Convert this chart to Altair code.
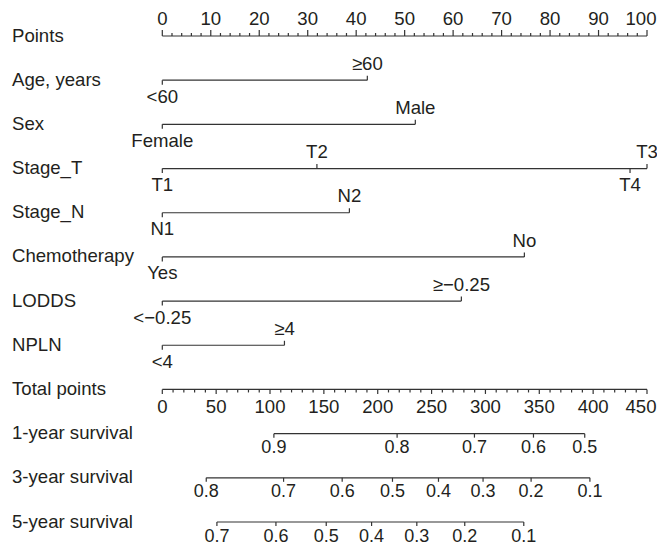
import altair as alt
import pandas as pd

FONT = "Liberation Sans"
INK = "#231f20"
LINE = "#333333"
FS = 18.6
FS_SURV = 18

# ---------------- data ----------------
row_names = ["Points", "Age, years", "Sex", "Stage_T", "Stage_N", "Chemotherapy",
             "LODDS", "NPLN", "Total points", "1-year survival", "3-year survival",
             "5-year survival"]

points_major = list(range(0, 101, 10))
points_minor = [v for v in range(0, 101, 2) if v % 10]

total_major = list(range(0, 451, 50))
total_minor = [v for v in range(0, 451, 10) if v % 50]

# categorical predictors: labels, points, label side
age_labels = ["<60", "≥60"];          age_points = [0, 42.3];   age_side = ["below", "above"]
sex_labels = ["Female", "Male"];      sex_points = [0, 52.2];   sex_side = ["below", "above"]
t_labels = ["T1", "T2", "T3", "T4"];  t_points = [0, 31.9, 100, 96.5]; t_side = ["below", "above", "above", "below"]
n_labels = ["N1", "N2"];              n_points = [0, 38.6];     n_side = ["below", "above"]
chemo_labels = ["Yes", "No"];         chemo_points = [0, 74.7]; chemo_side = ["below", "above"]
lodds_labels = ["<−0.25", "≥−0.25"];  lodds_points = [0, 61.7]; lodds_side = ["below", "above"]
npln_labels = ["<4", "≥4"];           npln_points = [0, 25.2];  npln_side = ["below", "above"]

# survival scales: labels and their total-points positions
surv1_labels = ["0.9", "0.8", "0.7", "0.6", "0.5"]
surv1_total = [103.6, 218.0, 289.8, 344.6, 392.2]
surv3_labels = ["0.8", "0.7", "0.6", "0.5", "0.4", "0.3", "0.2", "0.1"]
surv3_total = [40.8, 112.6, 167.0, 213.7, 256.4, 297.8, 342.4, 397.0]
surv5_labels = ["0.7", "0.6", "0.5", "0.4", "0.3", "0.2", "0.1"]
surv5_total = [50.7, 105.5, 152.2, 194.3, 236.3, 280.8, 335.6]

TOTAL_MAX = 450
POINTS_MAX = 100

# ---------------- tables ----------------
rows = pd.DataFrame({"name": row_names, "row": list(range(len(row_names)))})

cats = [
    (1, age_labels, age_points, age_side),
    (2, sex_labels, sex_points, sex_side),
    (3, t_labels, t_points, t_side),
    (4, n_labels, n_points, n_side),
    (5, chemo_labels, chemo_points, chemo_side),
    (6, lodds_labels, lodds_points, lodds_side),
    (7, npln_labels, npln_points, npln_side),
]
survs = [
    (9, surv1_labels, surv1_total),
    (10, surv3_labels, surv3_total),
    (11, surv5_labels, surv5_total),
]

def tot(v):
    return v * POINTS_MAX / TOTAL_MAX

seg_rows = [{"row": 0, "x": 0, "x2": POINTS_MAX},
            {"row": 8, "x": 0, "x2": POINTS_MAX}]
for r, labs, pts, side in cats:
    seg_rows.append({"row": r, "x": min(pts), "x2": max(pts)})
for r, labs, tv in survs:
    seg_rows.append({"row": r, "x": tot(min(tv)), "x2": tot(max(tv))})
segs = pd.DataFrame(seg_rows)

tick_up_major = pd.DataFrame({"row": 0, "x": points_major})
tick_up_minor = pd.DataFrame({"row": 0, "x": points_minor})
tick_dn_major = pd.DataFrame({"row": 8, "x": [tot(v) for v in total_major]})
tick_dn_minor = pd.DataFrame({"row": 8, "x": [tot(v) for v in total_minor]})

cat_up, cat_dn, lab_up, lab_dn = [], [], [], []
for r, labs, pts, side in cats:
    for l, p, s in zip(labs, pts, side):
        if s == "above":
            cat_up.append({"row": r, "x": p})
            lab_up.append({"row": r, "x": p, "text": l})
        else:
            cat_dn.append({"row": r, "x": p})
            lab_dn.append({"row": r, "x": p, "text": l})
cat_up = pd.DataFrame(cat_up)
cat_dn = pd.DataFrame(cat_dn)
lab_up = pd.DataFrame(lab_up)
lab_dn = pd.DataFrame(lab_dn)

surv_ticks = pd.DataFrame([{"row": r, "x": tot(v), "text": l}
                           for r, labs, tv in survs for l, v in zip(labs, tv)])

points_labels = pd.DataFrame({"row": 0, "x": points_major, "text": [str(v) for v in points_major]})
total_labels = pd.DataFrame({"row": 8, "x": [tot(v) for v in total_major],
                             "text": [str(v) for v in total_major]})
# the last label of each scale sits at the right edge
points_last = points_labels.iloc[[-1]]
points_rest = points_labels.iloc[:-1]
total_last = total_labels.iloc[[-1]]
total_rest = total_labels.iloc[:-1]

# ---------------- encodings ----------------
xs = alt.Scale(domain=[0, POINTS_MAX], range=[154.3, 639])
ys = alt.Scale(domain=[0, 11], range=[28, 514])
X = alt.X("x:Q", scale=xs, axis=None)
Y = alt.Y("row:Q", scale=ys, axis=None)

def ticks(df, off):
    return alt.Chart(df).mark_rule(color=LINE, strokeWidth=1.2, y2Offset=off).encode(
        x=X, y=Y, y2="row:Q")

def labels(df, dy, dx=0, size=FS):
    return alt.Chart(df).mark_text(font=FONT, fontSize=size, color=INK, align="center",
                                   baseline="alphabetic", dy=dy, dx=dx).encode(
        x=X, y=Y, text="text:N")

row_label_layer = alt.Chart(rows).mark_text(
    font=FONT, fontSize=FS, color=INK, align="left", baseline="alphabetic", dy=5.5
).encode(x=alt.value(4), y=Y, text="name:N")

seg_layer = alt.Chart(segs).mark_rule(color=LINE, strokeWidth=1.2).encode(
    x=X, x2="x2:Q", y=Y)

chart = alt.layer(
    row_label_layer,
    seg_layer,
    ticks(tick_up_major, -6),
    ticks(tick_up_minor, -3),
    ticks(tick_dn_major, 4.5),
    ticks(tick_dn_minor, 3),
    ticks(cat_up, -4.5),
    ticks(cat_dn, 4.5),
    ticks(surv_ticks, 4),
    labels(points_rest, -10.7),
    labels(points_last, -10.7, dx=-6),
    labels(lab_up, -10.4),
    labels(lab_dn, 22.5),
    labels(total_rest, 23.5),
    labels(total_last, 23.5, dx=-6),
    labels(surv_ticks, 19.5, size=FS_SURV),
).properties(
    width=649, height=538,
    autosize=alt.AutoSizeParams(type="none"),
    padding=0,
    background="white",
).configure_view(stroke=None)

chart.save("out.html", embed_options={"renderer": "svg", "actions": False})
